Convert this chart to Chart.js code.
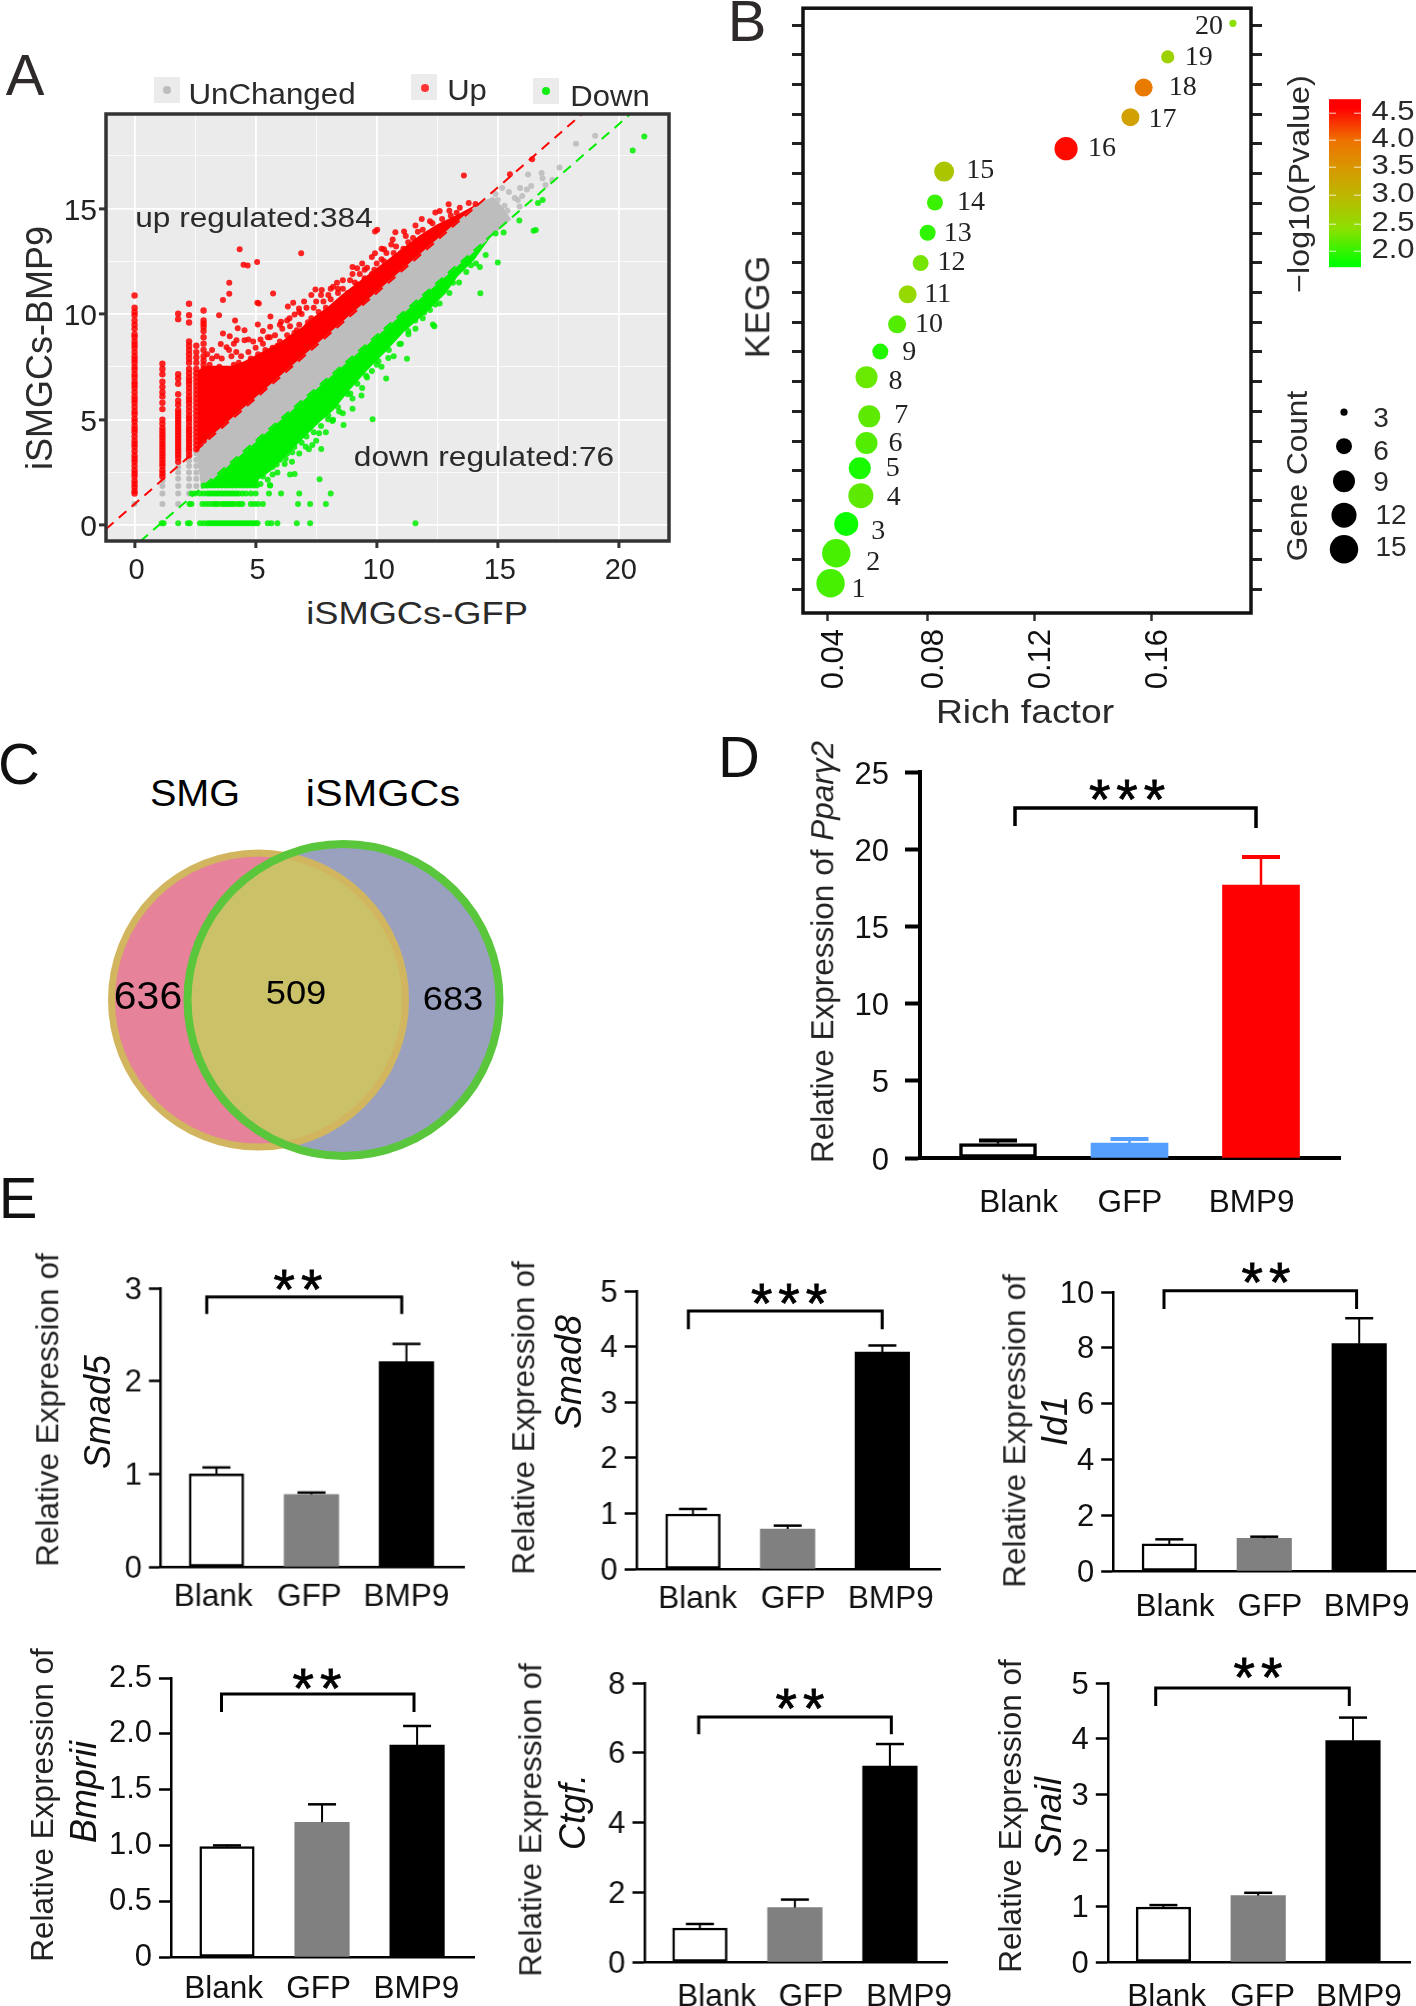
<!DOCTYPE html>
<html><head><meta charset="utf-8">
<style>
html,body{margin:0;padding:0;background:#fff}
#page{position:relative;width:1416px;height:2006px;overflow:hidden;background:#fff;font-family:"Liberation Sans",Arial,sans-serif}
canvas{position:absolute;display:block}
.t{position:absolute;white-space:nowrap;line-height:1;transform-origin:center}
</style>
<script src="https://cdn.jsdelivr.net/npm/chart.js@4/dist/chart.umd.min.js"></script>
</head><body><div id="page"></div>
<script>
/* ---------- DATA ---------- */
const categories=['Blank','GFP','BMP9'];
const ppargValues=[0.93,0.97,17.67], ppargErrorTops=[1.14,1.23,19.5];
const smad5Values=[1.0,0.78,2.21], smad5ErrorTops=[1.07,0.80,2.40];
const smad8Values=[0.99,0.72,3.90], smad8ErrorTops=[1.08,0.78,4.02];
const id1Values=[0.97,1.17,8.15], id1ErrorTops=[1.135,1.23,9.06];
const bmpriiValues=[0.99,1.207,1.90], bmpriiErrorTops=[1.0,1.368,2.07];
const ctgfValues=[0.975,1.56,5.62], ctgfErrorTops=[1.09,1.79,6.25];
const snailValues=[0.986,1.19,3.97], snailErrorTops=[1.02,1.24,4.38];

const vennSetLabels=['SMG','iSMGCs'], vennCounts=['636','509','683'];
const vennX=[158.5,243.5], vennY=[170,170], vennRadius=[147,156];

const keggRich=[.0413,.0434,.0471,.0525,.0521,.0546,.0556,.0546,.0597,.0659,.0698,.0746,.0772,.0799,.0833,.1284,.1522,.1571,.1660,.1901];
const keggRow=[1.21,2.22,3.21,4.16,5.08,5.93,6.83,8.15,9.01,9.93,10.94,11.99,13.01,14.03,15.07,15.84,16.90,17.90,18.93,20.06];
const keggLogP=[2.2,2.2,1.95,2.3,2.0,2.25,2.3,2.35,2.05,2.25,2.6,2.4,2.1,2.15,2.85,4.5,3.4,3.9,2.7,2.5];
const keggCount=[15,15,11,12,9,9,9,9,6,7,7,6,6,6,8,10,7,7,5,3];
const keggTickPos=[.04,.077,.1166,.16], keggTickText=['0.04','0.08','0.12','0.16'];
const keggLabelDX=[28,37,32,33,33,29,32,29,29,32,30,31,30,36,36,36,32,39,31,-24];
const keggLabelDY=[6,9,8,2,0,1,-1,5,1,0,0,0,1,0,-1,0,2,0,1,3];
const countLegend=[3,6,9,12,15];
const countRadius={3:3.6,5:6.6,6:8,7:9,8:10,9:11,10:11.6,11:12,12:12.5,15:14.2};
const pLegend=['4.5','4.0','3.5','3.0','2.5','2.0'];
const pStops=[[1.9,[0,255,0]],[2.5,[140,224,0]],[3,[184,187,0]],[3.5,[214,154,0]],[4,[238,114,0]],[4.55,[255,0,0]]];

const upColumnX=[0,1.15,1.8,2.25,2.55,2.85];
const upColumnY=[
[1.5,1.62,1.8,1.95,2.1,2.3,2.45,2.6,2.8,3.0,3.15,3.3,3.5,3.7,3.85,4.0,4.2,4.4,4.55,4.7,4.9,5.05,5.25,5.4,5.6,5.8,5.95,6.1,6.3,6.5,6.65,6.8,7.0,7.15,7.35,7.5,7.7,7.85,8.0,8.2,8.4,8.55,8.7,8.9,9.05,9.3,9.5,9.7,9.95,10.1,10.3,10.88],
[2.3,2.45,2.6,2.8,2.95,3.1,3.25,3.4,3.55,3.7,3.85,4.0,4.15,4.3,4.45,4.6,4.8,5.0,5.5,5.8,6.1,6.3,6.55,6.8,7.15,7.4,7.65],
[3.0,3.2,3.35,3.5,3.65,3.8,3.95,4.1,4.25,4.4,4.55,4.7,4.85,5.0,5.15,5.3,5.45,5.7,5.9,6.2,6.7,6.95,7.15,9.76,10.02],
[3.3,3.5,3.65,3.8,3.95,4.1,4.25,4.4,4.55,4.7,4.9,5.05,5.2,5.4,5.6,5.8,5.95,6.1,6.3,6.5,6.7,6.85,7.0,7.2,7.4,7.7,7.9,8.1,8.3,8.5,8.7,9.6,9.95,10.49],
[3.6,3.8,4,4.2,4.4,4.6,4.8,5,5.2,5.4,5.6,5.8,6,6.2,6.4,6.6,6.8,7,7.2,7.4,7.7,7.95,8.2,8.5],
[4,4.3,4.6,4.9,5.2,5.5,5.8,6.1,6.4,6.7,7,7.2,7.4,7.6,7.8,8.0,8.3,8.6,8.9,9.2,9.4,9.55,9.7,10.17]];
const upScatter=[[4.34,13.07],[6.88,12.88],[5.06,12.47],[4.5,12.34],[4.67,12.3],[3.91,11.48],[3.91,10.96],[3.65,10.67],[5.72,10.97],[5.07,10.54],[5.13,10.5],[3.49,9.94],[5.61,9.89],[4.15,9.7],[5.09,9.51],[4.26,9.33],[4.54,9.23],[3.65,9.08],[3.93,8.95],[4.21,8.76],[4.54,8.76],[3.56,8.58],[3.8,8.43],[6.55,10.54],[6.33,10.36],[6.79,10.26],[6.61,9.98],[5.59,8.9],[6.05,9.64],[6.42,9.42],[6.7,9.23],[7.16,9.61],[7.47,11.16],[7.73,11.14],[8.1,11.2],[8.36,11.48],[9.0,12.23],[9.19,12.17],[9.93,13.91],[10.02,14.0],[10.77,13.88],[11.13,13.91],[9.93,12.88],[10.3,13.07],[10.66,13.54],[13.6,16.57],[15.5,16.63],[16.42,17.34],[12.97,15.21],[12.42,14.81],[11.86,14.51],[12.6,14.89],[13.43,15.04],[13.8,15.26],[14.08,15.22],[13.06,14.66],[3.0,8.1],[3.2,7.9],[3.4,7.4],[3.7,7.0],[4.0,8.0],[4.3,7.7],[4.6,7.3],[5.0,8.4],[5.3,8.6],[5.6,8.1],[5.9,8.5],[6.2,8.6],[6.5,8.9],[6.9,8.3],[7.2,9.1],[7.6,9.4],[7.9,9.9],[8.2,10.1],[8.5,10.6],[8.8,11.0],[9.2,11.4],[9.5,11.7],[9.9,12.1],[10.3,12.5],[10.7,12.9],[11.1,13.1],[11.5,13.6],[11.9,14.0],[12.3,14.3],[7.1,10.3],[7.5,10.6],[8.0,10.9],[8.4,11.2],[9.5,12.1],[10.0,12.4],
[3.1,7.6],[3.3,7.1],[3.5,7.5],[3.6,7.9],[3.9,7.4],[4.1,7.6],[4.2,8.2],[4.4,8.0],[4.5,7.6],[4.7,8.2],[4.8,7.9],[4.9,8.7],[5.1,8.1],[5.2,8.8],[5.4,8.3],[5.5,8.9],[5.7,8.4],[5.8,9.0],[6.0,8.7],[6.1,9.3],[6.3,9.0],[6.4,9.8],[6.6,9.1],[6.8,9.5],[6.9,10.0],[7.1,9.4],[7.3,9.8],[7.4,10.3],[7.6,10.1],[7.8,10.6],[7.9,10.3],[8.1,10.7],[8.3,10.4],[8.4,11.0],[8.6,11.2],[8.8,10.9],[8.9,11.6],[9.1,11.5],[9.3,11.9],[9.5,11.6],[9.6,12.2],[9.8,11.9],[10.1,12.0],[10.2,12.6],[10.4,12.9],[10.6,12.5],[10.8,13.2],[11.0,12.9],[11.3,13.4],[11.5,13.1],[11.7,13.9],[12.0,13.6],[12.2,14.4],[12.4,14.0],[12.7,14.5],[13.0,14.9],[13.3,14.8],
[3.2,8.3],[3.4,8.0],[3.9,8.3],[4.1,8.6],[4.7,8.8],[5.3,9.2],[5.6,9.4],[6.0,9.5],[6.3,9.7],[6.8,10.1],[7.0,10.6],[7.3,10.9],[7.7,10.9],[8.2,11.3],[8.6,11.6],[9.0,11.9],[9.4,12.4],[9.8,12.7],[10.2,13.1],[10.6,13.3],[11.2,13.7],[11.6,14.2]];
const upDense=[[2.65,3.6],[2.65,7.3],[3,7.5],[3.5,7.5],[4,7.5],[4.5,7.7],[5,8.0],[5.5,8.3],[6,8.6],[6.5,9],[7,9.4],[7.5,9.9],[8,10.3],[8.6,10.9],[9.4,11.6],[10.2,12.3],[11,13],[11.8,13.7],[12.5,14.2],[13.4,14.7],[14.2,15.2]];
const unchangedDense=[[2.55,3.55],[14.2,15.2],[14.8,15.5],[15.2,15.0],[15.5,14.5],[2.75,1.75]];
const unchangedColumnX=[0,1.15,1.8,2.25,2.55];
const unchangedColumnY=[[1.0],[1.0,1.5,1.85,2.1],[1.0,1.5,1.85,2.2,2.5,2.75],[1.5,1.85,2.2,2.5,2.8,3.05],[1.85,2.2,2.5,2.8,3.1,3.4]];
const unchangedScatter=[[18.23,18.07],[19.02,18.45],[17.55,16.95],[16.81,16.69],[16.85,16.44],[16.25,16.61],[17.25,16.35],[16.97,16.12],[16.38,16.07],[15.92,15.97],[15.18,15.97],[15.46,15.79],[15.83,15.41],[14.91,15.69],[14.72,15.22],[15.28,15.13],[16.01,15.6],[16.2,15.9],[15.7,15.5],[15.0,15.4],[15.9,15.1],[15.4,14.9]];
const downDense=[[2.75,1.75],[14.5,13.4],[14,12.6],[13.3,11.8],[12.8,11],[12,10.1],[11.1,9.2],[10.3,8.2],[9.6,7.4],[8.9,6.5],[8.2,5.5],[7.6,4.9],[6.9,4.1],[6.2,3.3],[5.6,2.6],[5.1,2.2],[5.0,1.8]];
const downRowY=[0.09,1.0,1.5,1.88];
const downRowX=[
[1.12,1.2,1.8,2.2,2.28,2.7,2.85,3.0,3.1,3.2,3.3,3.4,3.5,3.6,3.7,3.8,3.9,4,4.1,4.2,4.3,4.4,4.5,4.6,4.7,4.8,4.9,5,5.08,5.5,5.65,5.9,6.7,7.25,11.6],
[2.27,2.35,2.8,2.95,3.1,3.25,3.35,3.45,3.6,3.7,3.8,3.9,4.0,4.1,4.25,4.35,4.45,4.8,4.95,5.1,5.3,6.75,7.25,7.9],
[2.35,2.5,2.7,2.85,3,3.1,3.2,3.3,3.4,3.5,3.6,3.7,3.8,3.9,4,4.1,4.2,4.3,4.45,4.6,4.8,5.0,5.55,6.05,6.8,8.1],
[2.85,3,3.15,3.3,3.45,3.6,3.75,3.9,4.05,4.2,4.35,4.5,4.65,4.8,4.95,5.05,5.6]];
const downScatter=[[21.05,18.41],[20.57,17.75],[16.85,15.41],[16.66,15.26],[15.89,14.44],[16.48,13.95],[16.57,13.99],[14.91,13.82],[15.24,13.86],[15.0,12.45],[14.26,12.23],[14.28,10.99],[13.62,12.42],[13.89,12.32],[12.88,11.29],[13.15,11.48],[12.42,10.45],[12.32,9.51],[12.38,9.42],[11.59,9.7],[11.96,10.07],[11.25,7.88],[11.31,9.04],[10.94,8.58],[10.39,6.95],[10.48,7.92],[10.07,7.77],[9.56,7.64],[9.37,6.14],[9.0,5.52],[8.91,6.24],[9.83,5.02],[9.56,7.08],[8.82,6.61],[7.99,5.02],[7.71,3.61],[7.34,3.8],[7.62,4.36],[7.07,3.71],[7.64,2.17],[6.42,2.4],[6.61,2.43],[6.51,3.46],[6.14,3.8],[5.59,1.89],[5.87,2.87],[6.24,3.15],[8.45,5.39],[8.17,4.93],[8.63,4.74],
[5.2,1.95],[5.3,2.3],[5.5,2.15],[5.7,2.4],[5.7,2.75],[5.9,2.5],[6.0,3.1],[6.2,2.9],[6.3,3.4],[6.5,3.0],[6.6,3.7],[6.8,3.4],[6.9,3.9],[7.1,4.2],[7.2,3.6],[7.4,4.4],[7.5,4.0],[7.7,4.7],[7.9,4.4],[8.0,5.2],[8.2,5.0],[8.4,5.6],[8.6,5.3],[8.8,6.2],[9.0,6.0],[9.2,6.7],[9.4,6.5],[9.6,7.0],[9.8,7.3],[10.0,7.6],[10.2,7.5],[10.5,8.3],[10.7,8.0],[11.0,8.6],[11.3,9.2],[11.6,9.3],[11.9,9.8],[12.2,10.2],[12.6,10.5],[13.0,11.0],[13.4,11.5],[13.7,12.0],[14.1,12.4],[14.5,12.8]];
const upThreshold=[[-1.18,-0.18],[18.5,19.5]];
const downThreshold=[[0.24,-0.76],[20.5,19.5]];

/* ---------- HELPERS ---------- */
const page=document.getElementById('page');
const SANS='"Liberation Sans",Arial,sans-serif', SERIF='"Liberation Serif",serif';
Chart.defaults.font.family=SANS;
function label(text,cx,cy,o={}){
  const d=document.createElement('div');d.className='t';
  if(o.html)d.innerHTML=text;else d.textContent=text;
  d.style.left=cx+'px';d.style.top=cy+'px';
  d.style.fontSize=(o.size||29)+'px';d.style.color=o.color||'#111';
  if(o.italic)d.style.fontStyle='italic';
  if(o.family)d.style.fontFamily=o.family;
  if(o.spacing)d.style.letterSpacing=o.spacing+'px';
  if(o.stroke)d.style.webkitTextStroke=o.stroke+'px currentColor';
  d.style.transform=`translate(-50%,-50%) rotate(${o.rot||0}deg) scaleX(${o.sx||1})`;
  page.appendChild(d);
}
function box(l,t,w,h,bg,round){const d=document.createElement('div');d.style.cssText=`position:absolute;left:${l}px;top:${t}px;width:${w}px;height:${h}px;background:${bg};${round?'border-radius:50%;':''}`;page.appendChild(d);}
function mount(plot,m,config,rightAxis){
  const c=document.createElement('canvas');
  const W=plot.r-plot.l+m.l+m.r,H=plot.b-plot.t+m.t+m.b;
  c.width=W;c.height=H;c.style.left=(plot.l-m.l)+'px';c.style.top=(plot.t-m.t)+'px';c.style.width=W+'px';c.style.height=H+'px';
  page.appendChild(c);
  const o=config.options=config.options||{};
  o.responsive=false;o.animation=false;o.devicePixelRatio=1;o.events=[];
  o.layout={autoPadding:false,padding:{left:0,top:m.t,right:rightAxis?0:m.r,bottom:0}};
  o.plugins=Object.assign({legend:{display:false},tooltip:{enabled:false},title:{display:false}},o.plugins||{});
  return new Chart(c.getContext('2d'),config);
}
const toXY=a=>a.map(p=>({x:p[0],y:p[1]}));

/* ---------- PANEL A ---------- */
(function(){
  const columns=(xs,ys)=>xs.flatMap((x,i)=>ys[i].map(y=>({x,y})));
  const rows=(ys,xs)=>ys.flatMap((y,i)=>xs[i].map(x=>({x,y})));
  const dots=(data,col,r,ord)=>({type:'scatter',data,order:ord,backgroundColor:col,borderWidth:0,pointRadius:r,pointBorderWidth:0});
  const poly=(pts,col,ord)=>({type:'scatter',data:toXY(pts),order:ord,showLine:true,fill:'shape',backgroundColor:col,borderColor:col,borderWidth:2,pointRadius:0,tension:0});
  const dash=(pts,col,ord)=>({type:'scatter',data:toXY(pts),order:ord,showLine:true,fill:false,borderColor:col,borderWidth:2,borderDash:[10,7],pointRadius:0});
  const tickStyle=()=>({
    color:c=>(c.tick&&c.tick.value%5===0)?'#fff':'rgba(255,255,255,.75)',
    lineWidth:c=>(c.tick&&c.tick.value%5===0)?1.8:1,
    tickColor:c=>(c.tick&&c.tick.value%5===0)?'#333':'rgba(0,0,0,0)',
    tickWidth:3,tickLength:7,drawOnChartArea:true});
  const m={l:60,t:40,r:10,b:50};
  const frame={id:'frame',
    beforeDraw(ch){const a=ch.chartArea,x=ch.ctx;x.save();x.fillStyle='#ebebeb';x.fillRect(a.left,a.top,a.width,a.height);x.restore();},
    afterDraw(ch){const a=ch.chartArea,x=ch.ctx;x.save();x.strokeStyle='#333';x.lineWidth=3.5;x.strokeRect(a.left,a.top,a.width,a.height);x.restore();}};
  mount({l:106,t:114,r:669,b:541},m,{type:'scatter',plugins:[frame],
    data:{datasets:[
      dash(upThreshold,'#ff0000',1),dash(downThreshold,'#00ee00',2),
      dots(toXY(upScatter),'rgba(255,0,0,.85)',3,5),
      dots(toXY(downScatter),'rgba(0,240,0,.85)',3,5),
      dots(columns(upColumnX,upColumnY),'rgba(255,0,0,.85)',3.2,5),
      dots(rows(downRowY,downRowX),'rgba(0,240,0,.85)',3,5),
      dots(toXY(unchangedScatter),'rgba(190,190,190,.9)',3,6),
      dots(columns(unchangedColumnX,unchangedColumnY),'#bdbdbd',3,6),
      poly(unchangedDense,'#bdbdbd',7),
      poly(upDense,'#ff0000',8),
      poly(downDense,'#00f000',8)
    ]},
    options:{scales:{
      x:{type:'linear',min:-1.18,max:22.07,afterFit:s=>{s.height=m.b},border:{display:false},grid:tickStyle(),
         ticks:{stepSize:2.5,includeBounds:false,autoSkip:false,maxRotation:0,padding:6,labelOffset:2,color:'#222',font:{size:29},callback:v=>v%5===0?String(v):''}},
      y:{type:'linear',min:-0.75,max:19.48,afterFit:s=>{s.width=m.l},border:{display:false},grid:tickStyle(),
         ticks:{stepSize:2.5,includeBounds:false,autoSkip:false,padding:2,labelOffset:3,color:'#222',font:{size:30},callback:v=>v%5===0?String(v):''}}
    }}});
  label('A',25,75,{size:58,color:'#2e2a2a'});
  box(154,77,26,26,'#ebebeb');box(163,86,8,8,'#bdbdbd',1);
  box(411,74,26,26,'#ebebeb');box(420.5,84,8,8,'#f33',1);
  box(533,78,26,26,'#ebebeb');box(542,87,8,8,'#1e1',1);
  label('UnChanged',272,94,{size:29,sx:1.08,color:'#2a2a2a'});
  label('Up',467,90,{size:29,sx:1.07,color:'#2a2a2a'});
  label('Down',610,96,{size:29,sx:1.07,color:'#2a2a2a'});
  label('up regulated:384',254,218,{size:28,sx:1.13,color:'#2a2a2a'});
  label('down regulated:76',484,457,{size:28,sx:1.13,color:'#2a2a2a'});
  label('iSMGCs-GFP',417,613,{size:31,sx:1.17,color:'#2a2a2a'});
  label('iSMGCs-BMP9',40,348,{size:36,rot:-90,color:'#2a2a2a'});
})();

/* ---------- PANEL B ---------- */
(function(){
  const pColor=p=>{for(let i=1;i<pStops.length;i++){if(p<=pStops[i][0]){const a=pStops[i-1],b=pStops[i],f=Math.max(0,(p-a[0])/(b[0]-a[0]));return `rgb(${a[1].map((v,k)=>Math.round(v+(b[1][k]-v)*f)).join(',')})`;}}return 'rgb(255,0,0)';};
  const m={l:60,t:5,r:165,b:100};
  const deco={id:'deco',
    afterDatasetsDraw(ch){
      const x=ch.ctx,pts=ch.getDatasetMeta(0).data;
      x.save();x.fillStyle='#222';x.font='28px '+SERIF;x.textAlign='center';x.textBaseline='middle';
      pts.forEach((p,i)=>x.fillText(String(i+1),p.x+keggLabelDX[i],p.y+keggLabelDY[i]));
      x.restore();
    },
    afterDraw(ch){
      const x=ch.ctx,a=ch.chartArea;x.save();x.strokeStyle='#111';x.lineWidth=3.5;x.strokeRect(a.left,a.top,a.width,a.height);
      const ox=a.left-803,oy=a.top-6,L=1329+ox,R=1361+ox,T=97+oy,B=265+oy;
      const pmax=4.7,pmin=1.85,g=x.createLinearGradient(0,T,0,B);
      pStops.forEach(s=>{const f=Math.min(1,Math.max(0,(pmax-s[0])/(pmax-pmin)));g.addColorStop(f,`rgb(${s[1].join(',')})`);});
      x.fillStyle=g;x.fillRect(L,T,R-L,B-T);
      x.strokeStyle='rgba(255,255,255,.8)';x.lineWidth=1;
      [111,138,165,193,222,249].forEach(y=>{[[L,L+7],[R-7,R]].forEach(s=>{x.beginPath();x.moveTo(s[0],y+oy);x.lineTo(s[1],y+oy);x.stroke();});});
      x.fillStyle='#000';
      [410,444,479,513,547].forEach((y,i)=>{x.beginPath();x.arc(1344+ox,y+oy,countRadius[countLegend[i]],0,7);x.fill();});
      x.restore();
    }};
  mount({l:803,t:6,r:1251,b:613},m,{type:'bubble',plugins:[deco],
    data:{datasets:[{data:keggRich.map((v,i)=>({x:v,y:keggRow[i],r:countRadius[keggCount[i]]})),
      backgroundColor:keggLogP.map(pColor),borderWidth:0,hoverBorderWidth:0}]},
    options:{clip:false,scales:{
      x:{type:'linear',min:.0311,max:.1968,afterFit:s=>{s.height=m.b},border:{display:false},
         afterBuildTicks:s=>{s.ticks=keggTickPos.map(value=>({value}));},
         grid:{drawOnChartArea:false,tickLength:8,tickWidth:2.5,tickColor:'#333'},
         ticks:{autoSkip:false,minRotation:90,maxRotation:90,padding:8,labelOffset:7,color:'#111',font:{family:'"Liberation Sans Narrow","Liberation Sans",sans-serif',size:31},callback:(v,i)=>keggTickText[i]}},
      y:{type:'linear',min:.21,max:20.57,afterFit:s=>{s.width=m.l},border:{display:false},
         grid:{drawOnChartArea:false,tickLength:11,tickWidth:3,tickColor:'#222'},
         ticks:{stepSize:1,includeBounds:false,autoSkip:false,padding:0,callback:()=>''}},
      y2:{type:'linear',position:'right',min:.21,max:20.57,afterFit:s=>{s.width=m.r},border:{display:false},
         grid:{drawOnChartArea:false,tickLength:11,tickWidth:3,tickColor:'#222'},
         ticks:{stepSize:1,includeBounds:false,autoSkip:false,padding:0,callback:()=>''}}
    }}},true);
  label('B',747,21,{size:58,color:'#2e2a2a'});
  label('KEGG',758,307,{size:35.5,rot:-90,color:'#2a2a2a'});
  label('Rich factor',1025,711,{size:33,sx:1.13,color:'#2a2a2a'});
  label('\u2212log10(Pvalue)',1299,184,{size:29,sx:1.11,rot:-90,color:'#2a2a2a'});
  label('Gene Count',1297,476,{size:29,sx:1.09,rot:-90,color:'#2a2a2a'});
  pLegend.forEach((t,i)=>label(t,1393,[111,138,165,193,222,249][i],{size:27,sx:1.15,color:'#2a2a2a'}));
  countLegend.forEach((t,i)=>label(String(t),[1381,1381,1381,1391,1391][i],[418,451,482,515,547][i],{size:28,color:'#2a2a2a'}));
})();

/* ---------- PANEL C ---------- */
(function(){
  const m={l:0,t:0,r:0,b:0};
  const lens={id:'lens',afterDatasetsDraw(ch){
    const x=ch.ctx,a=ch.getDatasetMeta(1).data[0],b=ch.getDatasetMeta(0).data[0];
    const ra=vennRadius[0],rb=vennRadius[1];
    const arc=(p,r)=>{x.beginPath();x.arc(p.x,p.y,r,0,Math.PI*2);};
    x.save();arc(b,rb);x.clip();arc(a,ra);x.fillStyle='#CBC168';x.fill();x.restore();
    x.save();arc(a,ra);x.strokeStyle='#D2B65F';x.lineWidth=7;x.stroke();
    arc(b,rb);x.strokeStyle='#5AC63C';x.lineWidth=8;x.stroke();x.restore();
  }};
  mount({l:100,t:830,r:520,b:1170},m,{type:'bubble',plugins:[lens],
    data:{datasets:[
      {label:vennSetLabels[1],data:[{x:vennX[1],y:vennY[1],r:vennRadius[1]}],backgroundColor:'#99A1BF',borderWidth:0,order:1},
      {label:vennSetLabels[0],data:[{x:vennX[0],y:vennY[0],r:vennRadius[0]}],backgroundColor:'#E68299',borderWidth:0,order:2}]},
    options:{clip:false,scales:{x:{type:'linear',min:0,max:420,display:false},y:{type:'linear',min:0,max:340,display:false}}}});
  label('C',19,764,{size:58,color:'#111'});
  label('SMG',195,793,{size:37,sx:1.07,color:'#000'});
  label('iSMGCs',383,793,{size:37,sx:1.12,color:'#000'});
  label(vennCounts[0],148,995,{size:39,sx:1.05,color:'#000'});
  label(vennCounts[1],296,992,{size:34,sx:1.07,color:'#000'});
  label(vennCounts[2],453,998,{size:34,sx:1.07,color:'#000'});
})();

/* ---------- BAR PANELS (D, E) ---------- */
function barPanel(p){
  const sp=(p.centers[2]-p.centers[0])/2, xOf=px=>1+(px-p.centers[0])/sp;
  const m={l:p.plot.l-p.mleft,t:50,r:60,b:70};
  const w=p.lw;
  const marks={id:'marks',afterDatasetsDraw(ch){
    const x=ch.ctx,sx=ch.scales.x,sy=ch.scales.y,off=p.plot.l-ch.chartArea.left,offY=p.plot.t-ch.chartArea.top;
    x.save();
    p.errs.forEach((e,i)=>{
      const cx=sx.getPixelForValue(i+1),y0=sy.getPixelForValue(p.values[i]),y1=sy.getPixelForValue(e);
      x.strokeStyle=p.errColors[i];x.lineWidth=p.stemW;x.beginPath();x.moveTo(cx,y0);x.lineTo(cx,y1);x.stroke();
      x.lineWidth=p.capH;x.beginPath();x.moveTo(cx-p.capW/2,y1);x.lineTo(cx+p.capW/2,y1);x.stroke();
    });
    const br=p.bracket;x.strokeStyle='#000';x.lineWidth=p.brW;x.lineJoin='miter';x.beginPath();
    x.moveTo(br[0]-off,br[3]-offY);x.lineTo(br[0]-off,br[2]-offY);x.lineTo(br[1]-off,br[2]-offY);x.lineTo(br[1]-off,br[4]-offY);x.stroke();
    x.restore();
  }};
  mount(p.plot,m,{type:'bar',plugins:[marks],
    data:{datasets:[{data:p.values.map((y,i)=>({x:i+1,y})),barThickness:p.barW,
      backgroundColor:p.colors,borderColor:'#000',borderWidth:[p.bw,0,0],borderSkipped:false}]},
    options:{scales:{
      x:{type:'linear',offset:false,min:xOf(p.plot.l),max:xOf(p.plot.r),afterFit:s=>{s.height=m.b},
        afterBuildTicks:s=>{s.ticks=p.labelX.map(px=>({value:xOf(px)}));},
        border:{display:true,width:w,color:'#000'},grid:{display:false,offset:false,drawTicks:false},
        ticks:{autoSkip:false,maxRotation:0,padding:p.xPad,color:'#111',font:{size:p.xFont},callback:(v,i)=>categories[i]}},
      y:{type:'linear',min:0,max:p.ymax,afterFit:s=>{s.width=m.l},
        border:{display:true,width:w,color:'#000'},grid:{drawOnChartArea:false,tickLength:p.tickLen,tickWidth:w,tickColor:'#000'},
        ticks:{stepSize:p.step,padding:p.yPad,labelOffset:p.yShift,color:'#111',font:{size:p.yFont},callback:p.fmt||(v=>String(v))}}
    }}});
  label(p.stars[0],p.stars[1]+2,p.stars[2]+10,{size:55,spacing:6,color:'#000',stroke:.8});
  label(p.title[0],p.title[1],p.title[2],{size:p.title[3]||31.5,rot:-90,html:true,color:'#222'});
  if(p.gene)label(p.gene[0],p.gene[1],p.gene[2],{size:36,rot:-90,italic:true,color:'#111'});
}
const eBase={colors:['#fff','#808080','#000'],errColors:['#000','#000','#000'],barW:54.5,bw:2.5,lw:2.5,stemW:2,capW:28,capH:2.5,brW:3,tickLen:12,yPad:7,xPad:15,yFont:31,xFont:31.5,mleft:60,yShift:2};
const ROE='Relative Expression of';
barPanel({...eBase,colors:['#fff','#559FFF','#ff0000'],errColors:['#000','#559FFF','#ff0000'],barW:77,bw:3.5,lw:4,stemW:2.5,capW:38,capH:4,brW:3.5,tickLen:15,yPad:16,xPad:26,mleft:80,yShift:3,
  plot:{l:920,t:772,r:1340,b:1158},centers:[998,1129.5,1261],labelX:[1018.7,1130,1251.6],values:ppargValues,errs:ppargErrorTops,ymax:25,step:5,
  bracket:[1015,1256,808,826,828],stars:['***',1128,789],title:[ROE+' <i>Ppar\u03b32</i>',823,952]});
barPanel({...eBase,xPad:11,plot:{l:160.7,t:1288.3,r:463.5,b:1566.7},centers:[216.2,311.5,406.1],labelX:[213,309,406],values:smad5Values,errs:smad5ErrorTops,ymax:3,step:1,
  bracket:[206.4,401,1297,1314,1314],stars:['**',299,1279],title:[ROE,48,1410],gene:['Smad5',98,1412]});
barPanel({...eBase,xPad:11,plot:{l:636,t:1290.7,r:939.7,b:1569.3},centers:[692.4,787.2,882],labelX:[697,792.7,890.4],values:smad8Values,errs:smad8ErrorTops,ymax:5,step:1,
  bracket:[687.7,881.3,1310.7,1329,1329],stars:['***',790,1292.7],title:[ROE,523.7,1418],gene:['Smad8',568.5,1372]});
barPanel({...eBase,xPad:17,plot:{l:1113.2,t:1292,r:1416,b:1571},centers:[1169.3,1264.2,1359.2],labelX:[1175,1270,1366.7],values:id1Values,errs:id1ErrorTops,ymax:10,step:2,
  bracket:[1164,1356.6,1290.7,1309,1309],stars:['**',1267,1272],title:[ROE,1015,1430.8],gene:['Id1',1055,1421]});
barPanel({...eBase,xPad:13.5,yShift:0,plot:{l:171,t:1678,r:474,b:1957},centers:[227,322.2,417.1],labelX:[223.7,318.7,416.4],values:bmpriiValues,errs:bmpriiErrorTops,ymax:2.5,step:.5,fmt:v=>v===0?'0':v.toFixed(1),
  bracket:[221.5,414,1694,1712,1712],stars:['**',318,1678],title:[ROE,43,1805],gene:['Bmprii',83.5,1791.7]});
barPanel({...eBase,xPad:16,plot:{l:643.8,t:1682.7,r:946.6,b:1961.7},centers:[699.3,794.3,889.5],labelX:[716,810.5,908.7],values:ctgfValues,errs:ctgfErrorTops,ymax:8,step:2,
  bracket:[698,890.4,1716.7,1734,1734],stars:['**',801,1698],title:[ROE,530.6,1820],gene:['Ctgf.',573,1812]});
barPanel({...eBase,xPad:16,plot:{l:1107.8,t:1682.7,r:1410,b:1961.7},centers:[1163.4,1258,1353],labelX:[1166.7,1262.6,1359],values:snailValues,errs:snailErrorTops,ymax:5,step:1,
  bracket:[1155.7,1349.3,1687.7,1705.7,1705.7],stars:['**',1259,1666.7],title:[ROE,1011.4,1816],gene:['Snail',1049,1817]});
label('D',739,757,{size:58,color:'#111'});
label('E',18,1198,{size:58,color:'#111'});
</script></body></html>
